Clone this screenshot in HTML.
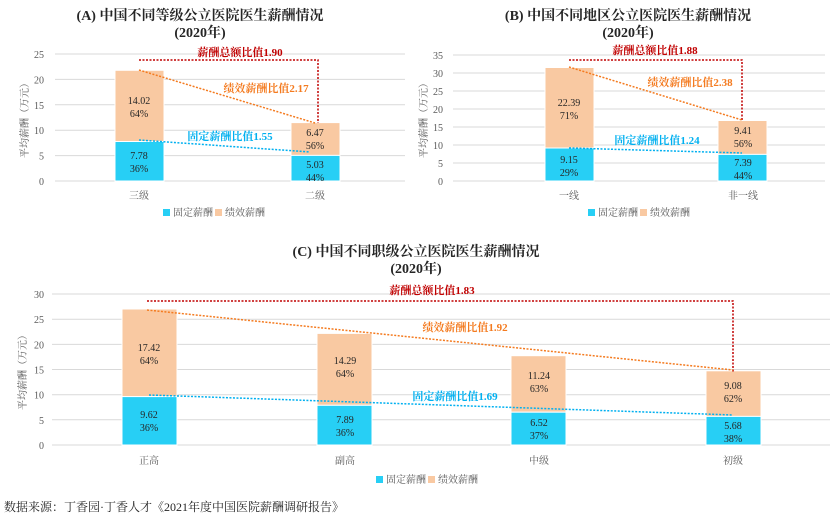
<!DOCTYPE html>
<html><head><meta charset="utf-8"><style>
body{margin:0;background:#fff;}
svg{display:block;font-family:"Liberation Serif","Noto Serif CJK SC",serif;}
</style></head><body>
<svg width="832" height="518" viewBox="0 0 832 518">
<g font-size="10" fill="#595959" text-anchor="end">
<g stroke="#d9d9d9" stroke-width="1">
<line x1="55" y1="181" x2="405" y2="181"/><line x1="55" y1="155.6" x2="405" y2="155.6"/><line x1="55" y1="130.2" x2="405" y2="130.2"/><line x1="55" y1="104.8" x2="405" y2="104.8"/><line x1="55" y1="79.4" x2="405" y2="79.4"/><line x1="55" y1="54" x2="405" y2="54"/>
<line x1="453" y1="181" x2="825" y2="181"/><line x1="453" y1="163" x2="825" y2="163"/><line x1="453" y1="145" x2="825" y2="145"/><line x1="453" y1="127" x2="825" y2="127"/><line x1="453" y1="109" x2="825" y2="109"/><line x1="453" y1="91" x2="825" y2="91"/><line x1="453" y1="73" x2="825" y2="73"/><line x1="453" y1="55" x2="825" y2="55"/>
<line x1="52" y1="445" x2="830" y2="445"/><line x1="52" y1="419.8" x2="830" y2="419.8"/><line x1="52" y1="394.7" x2="830" y2="394.7"/><line x1="52" y1="369.5" x2="830" y2="369.5"/><line x1="52" y1="344.4" x2="830" y2="344.4"/><line x1="52" y1="319.2" x2="830" y2="319.2"/><line x1="52" y1="294" x2="830" y2="294"/>
</g>
<text x="44" y="185">0</text><text x="44" y="159.6">5</text><text x="44" y="134.2">10</text><text x="44" y="108.8">15</text><text x="44" y="83.4">20</text><text x="44" y="58">25</text>
<text x="443" y="185">0</text><text x="443" y="167">5</text><text x="443" y="149">10</text><text x="443" y="131">15</text><text x="443" y="113">20</text><text x="443" y="95">25</text><text x="443" y="77">30</text><text x="443" y="59">35</text>
<text x="44" y="449">0</text><text x="44" y="423.8">5</text><text x="44" y="398.7">10</text><text x="44" y="373.5">15</text><text x="44" y="348.4">20</text><text x="44" y="323.2">25</text><text x="44" y="298">30</text>
</g>
<g font-size="10" fill="#595959" text-anchor="middle">
<text transform="translate(28,118) rotate(-90)">平均薪酬（万元）</text>
<text transform="translate(427,118) rotate(-90)">平均薪酬（万元）</text>
<text transform="translate(26,370) rotate(-90)">平均薪酬（万元）</text>
<text x="139" y="199">三级</text><text x="315" y="199">二级</text>
<text x="569" y="199">一线</text><text x="743" y="199">非一线</text>
<text x="149" y="464">正高</text><text x="345" y="464">副高</text><text x="539" y="464">中级</text><text x="733" y="464">初级</text>
</g>
<g stroke="#fff" stroke-width="1">
<rect x="115" y="70.3" width="49" height="71.2" fill="#f9c9a2"/><rect x="115" y="141.5" width="49" height="39.5" fill="#27cff5"/>
<rect x="291" y="122.6" width="49" height="32.8" fill="#f9c9a2"/><rect x="291" y="155.4" width="49" height="25.6" fill="#27cff5"/>
<rect x="545" y="67.5" width="49" height="80.5" fill="#f9c9a2"/><rect x="545" y="148" width="49" height="33" fill="#27cff5"/>
<rect x="718" y="120.5" width="49" height="33.9" fill="#f9c9a2"/><rect x="718" y="154.4" width="49" height="26.6" fill="#27cff5"/>
<rect x="122" y="309" width="55" height="87.6" fill="#f9c9a2"/><rect x="122" y="396.6" width="55" height="48.4" fill="#27cff5"/>
<rect x="317" y="333.4" width="55" height="71.9" fill="#f9c9a2"/><rect x="317" y="405.3" width="55" height="39.7" fill="#27cff5"/>
<rect x="511" y="355.7" width="55" height="56.5" fill="#f9c9a2"/><rect x="511" y="412.2" width="55" height="32.8" fill="#27cff5"/>
<rect x="706" y="370.8" width="55" height="45.6" fill="#f9c9a2"/><rect x="706" y="416.4" width="55" height="28.6" fill="#27cff5"/>
</g>
<g font-size="10" fill="#262626" text-anchor="middle">
<text x="139" y="104">14.02</text><text x="139" y="117">64%</text><text x="139" y="159">7.78</text><text x="139" y="172">36%</text>
<text x="315" y="136">6.47</text><text x="315" y="149">56%</text><text x="315" y="168">5.03</text><text x="315" y="181">44%</text>
<text x="569" y="106">22.39</text><text x="569" y="119">71%</text><text x="569" y="163">9.15</text><text x="569" y="176">29%</text>
<text x="743" y="134">9.41</text><text x="743" y="147">56%</text><text x="743" y="166">7.39</text><text x="743" y="179">44%</text>
<text x="149" y="351">17.42</text><text x="149" y="364">64%</text><text x="149" y="418">9.62</text><text x="149" y="431">36%</text>
<text x="345" y="364">14.29</text><text x="345" y="377">64%</text><text x="345" y="423">7.89</text><text x="345" y="436">36%</text>
<text x="539" y="379">11.24</text><text x="539" y="392">63%</text><text x="539" y="426">6.52</text><text x="539" y="439">37%</text>
<text x="733" y="389">9.08</text><text x="733" y="402">62%</text><text x="733" y="429">5.68</text><text x="733" y="442">38%</text>
</g>
<g fill="none" stroke-width="1.5" stroke-dasharray="2,1.5">
<polyline points="139,60 318,60 318,123" stroke="#c00000"/>
<line x1="139" y1="70" x2="315" y2="123" stroke="#f47b20"/>
<line x1="139" y1="140" x2="310" y2="152" stroke="#00b0f0"/>
<polyline points="569,60 742,60 742,121" stroke="#c00000"/>
<line x1="569" y1="67" x2="742" y2="120" stroke="#f47b20"/>
<line x1="569" y1="148" x2="742" y2="153" stroke="#00b0f0"/>
<polyline points="147,301 733,301 733,372" stroke="#c00000"/>
<line x1="147" y1="310" x2="733" y2="370" stroke="#f47b20"/>
<line x1="149" y1="395" x2="733" y2="415" stroke="#00b0f0"/>
</g>
<g font-size="11" font-weight="bold" text-anchor="middle">
<text x="240" y="56" fill="#c00000">薪酬总额比值1.90</text>
<text x="266" y="92" fill="#f47b20">绩效薪酬比值2.17</text>
<text x="230" y="140" fill="#00b0f0">固定薪酬比值1.55</text>
<text x="655" y="54" fill="#c00000">薪酬总额比值1.88</text>
<text x="690" y="86" fill="#f47b20">绩效薪酬比值2.38</text>
<text x="657" y="144" fill="#00b0f0">固定薪酬比值1.24</text>
<text x="432" y="294" fill="#c00000">薪酬总额比值1.83</text>
<text x="465" y="331" fill="#f47b20">绩效薪酬比值1.92</text>
<text x="455" y="400" fill="#00b0f0">固定薪酬比值1.69</text>
</g>
<g font-size="14" font-weight="bold" fill="#262626" text-anchor="middle">
<text x="200" y="20">(A) 中国不同等级公立医院医生薪酬情况</text><text x="200" y="37">(2020年)</text>
<text x="628" y="20">(B) 中国不同地区公立医院医生薪酬情况</text><text x="628" y="37">(2020年)</text>
<text x="416" y="256">(C) 中国不同职级公立医院医生薪酬情况</text><text x="416" y="273">(2020年)</text>
</g>
<g font-size="10" fill="#595959">
<rect x="163" y="209" width="7" height="7" fill="#27cff5"/><text x="173" y="216">固定薪酬</text>
<rect x="215" y="209" width="7" height="7" fill="#f9c9a2"/><text x="225" y="216">绩效薪酬</text>
<rect x="588" y="209" width="7" height="7" fill="#27cff5"/><text x="598" y="216">固定薪酬</text>
<rect x="640" y="209" width="7" height="7" fill="#f9c9a2"/><text x="650" y="216">绩效薪酬</text>
<rect x="376" y="476" width="7" height="7" fill="#27cff5"/><text x="386" y="483">固定薪酬</text>
<rect x="428" y="476" width="7" height="7" fill="#f9c9a2"/><text x="438" y="483">绩效薪酬</text>
</g>
<text x="4" y="511" font-size="12" fill="#262626">数据来源：丁香园·丁香人才《2021年度中国医院薪酬调研报告》</text>
</svg>
</body></html>
